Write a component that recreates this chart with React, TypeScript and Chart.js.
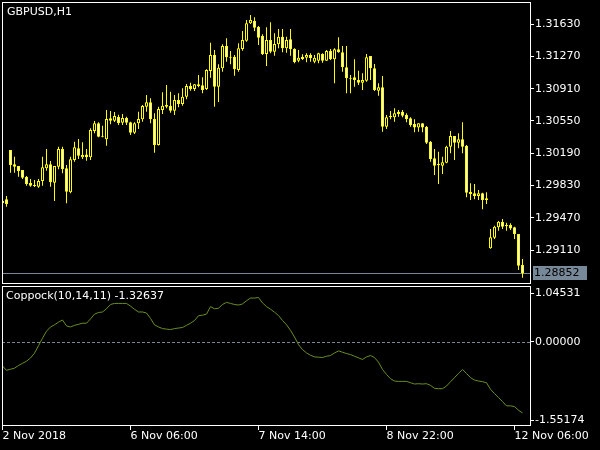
import React, { useEffect, useRef } from 'react';
import { Chart, registerables } from 'chart.js';

Chart.register(...registerables);

const symbolTitle = 'GBPUSD,H1';
const indicatorName = 'Coppock(10,14,11)';

const opens = [
  1.29657, 1.29676, 1.30226, 1.30066, 1.30047, 1.30003, 1.29925, 1.29858, 1.29835, 1.29816,
  1.29880, 1.30022, 1.30066, 1.29861, 1.30039, 1.30237, 1.30022, 1.29754, 1.30114, 1.30245,
  1.30144, 1.30177, 1.30144, 1.30438, 1.30523, 1.30385, 1.30345, 1.30579, 1.30552, 1.30594,
  1.30530, 1.30582, 1.30534, 1.30418, 1.30523, 1.30568, 1.30708, 1.30757, 1.30571, 1.30281,
  1.30672, 1.30708, 1.30719, 1.30664, 1.30783, 1.30738, 1.30820, 1.30939, 1.30906, 1.30958,
  1.30947, 1.30906, 1.31106, 1.31285, 1.30931, 1.31136, 1.31385, 1.31266, 1.31266, 1.31118,
  1.31352, 1.31444, 1.31638, 1.31664, 1.31600, 1.31497, 1.31296, 1.31452, 1.31322, 1.31404,
  1.31489, 1.31359, 1.31460, 1.31352, 1.31221, 1.31266, 1.31255, 1.31285, 1.31210, 1.31221,
  1.31296, 1.31221, 1.31329, 1.31237, 1.31348, 1.31315, 1.31148, 1.31028, 1.31036, 1.31006,
  1.30976, 1.30998, 1.31274, 1.31136, 1.30887, 1.30925, 1.30485, 1.30590, 1.30590, 1.30653,
  1.30653, 1.30616, 1.30579, 1.30515, 1.30478, 1.30523, 1.30485, 1.30318, 1.30133, 1.30069,
  1.30050, 1.30084, 1.30263, 1.30382, 1.30307, 1.30345, 1.30274, 1.29761, 1.29743, 1.29713,
  1.29743, 1.29687, 1.29130, 1.29248, 1.29364, 1.29423, 1.29389, 1.29389, 1.29364, 1.29289,
  1.28943,
];

const highs = [
  1.29676, 1.29713, 1.30226, 1.30151, 1.30047, 1.30003, 1.29936, 1.29902, 1.29891, 1.29902,
  1.30151, 1.30237, 1.30103, 1.30047, 1.30263, 1.30263, 1.30058, 1.30151, 1.30318, 1.30348,
  1.30311, 1.30237, 1.30468, 1.30549, 1.30534, 1.30496, 1.30672, 1.30661, 1.30649, 1.30619,
  1.30627, 1.30597, 1.30541, 1.30534, 1.30653, 1.30727, 1.30839, 1.30802, 1.30635, 1.30708,
  1.30869, 1.30950, 1.30876, 1.30839, 1.30858, 1.30913, 1.30961, 1.30976, 1.30961, 1.31062,
  1.31036, 1.31125, 1.31422, 1.31341, 1.31181, 1.31404, 1.31471, 1.31329, 1.31285, 1.31415,
  1.31552, 1.31675, 1.31731, 1.31705, 1.31608, 1.31516, 1.31594, 1.31649, 1.31527, 1.31575,
  1.31575, 1.31489, 1.31575, 1.31359, 1.31341, 1.31293, 1.31304, 1.31304, 1.31285, 1.31310,
  1.31304, 1.31341, 1.31352, 1.31359, 1.31482, 1.31385, 1.31385, 1.31062, 1.31237, 1.31110,
  1.31081, 1.31296, 1.31274, 1.31184, 1.30969, 1.31051, 1.30616, 1.30661, 1.30690, 1.30672,
  1.30672, 1.30635, 1.30590, 1.30568, 1.30523, 1.30523, 1.30493, 1.30326, 1.30237, 1.30207,
  1.30151, 1.30274, 1.30437, 1.30382, 1.30412, 1.30534, 1.30281, 1.29854, 1.29846, 1.29780,
  1.29750, 1.29754, 1.29345, 1.29381, 1.29434, 1.29456, 1.29415, 1.29408, 1.29370, 1.29289,
  1.29010,
];

const lows = [
  1.29593, 1.29593, 1.29973, 1.29973, 1.29928, 1.29902, 1.29827, 1.29816, 1.29813, 1.29805,
  1.29827, 1.29995, 1.29816, 1.29657, 1.30011, 1.29966, 1.29631, 1.29743, 1.30095, 1.30125,
  1.30125, 1.30106, 1.30114, 1.30412, 1.30367, 1.30367, 1.30274, 1.30512, 1.30538, 1.30504,
  1.30504, 1.30504, 1.30393, 1.30404, 1.30460, 1.30541, 1.30653, 1.30523, 1.30195, 1.30275,
  1.30627, 1.30690, 1.30641, 1.30616, 1.30702, 1.30719, 1.30791, 1.30887, 1.30883, 1.30925,
  1.30858, 1.30895, 1.31032, 1.30708, 1.30761, 1.31099, 1.31210, 1.31181, 1.31054, 1.31099,
  1.31333, 1.31433, 1.31630, 1.31552, 1.31396, 1.31285, 1.31162, 1.31304, 1.31277, 1.31359,
  1.31315, 1.31310, 1.31277, 1.31192, 1.31203, 1.31229, 1.31203, 1.31210, 1.31192, 1.31192,
  1.31199, 1.31218, 1.31229, 1.30969, 1.31310, 1.31099, 1.30858, 1.30858, 1.30931, 1.30950,
  1.30895, 1.30987, 1.31006, 1.30883, 1.30831, 1.30430, 1.30460, 1.30568, 1.30541, 1.30597,
  1.30590, 1.30534, 1.30485, 1.30423, 1.30430, 1.30423, 1.30292, 1.30095, 1.29947, 1.29846,
  1.29958, 1.30077, 1.30189, 1.30114, 1.30244, 1.30189, 1.29698, 1.29668, 1.29676, 1.29668,
  1.29564, 1.29623, 1.29125, 1.29233, 1.29326, 1.29345, 1.29326, 1.29334, 1.29233, 1.28888,
  1.28802,
];

const closes = [
  1.29635, 1.29623, 1.30059, 1.30039, 1.29992, 1.29917, 1.29846, 1.29827, 1.29824, 1.29880,
  1.30033, 1.30066, 1.29865, 1.30047, 1.30237, 1.30014, 1.29761, 1.30122, 1.30256, 1.30162,
  1.30170, 1.30144, 1.30449, 1.30523, 1.30374, 1.30374, 1.30571, 1.30552, 1.30605, 1.30527,
  1.30582, 1.30530, 1.30418, 1.30523, 1.30571, 1.30716, 1.30757, 1.30568, 1.30281, 1.30683,
  1.30719, 1.30727, 1.30664, 1.30783, 1.30738, 1.30820, 1.30939, 1.30906, 1.30958, 1.30939,
  1.30895, 1.31118, 1.31285, 1.30931, 1.31143, 1.31385, 1.31259, 1.31255, 1.31125, 1.31359,
  1.31452, 1.31638, 1.31675, 1.31589, 1.31478, 1.31293, 1.31452, 1.31322, 1.31407, 1.31489,
  1.31359, 1.31452, 1.31348, 1.31203, 1.31255, 1.31240, 1.31285, 1.31248, 1.31255, 1.31304,
  1.31221, 1.31329, 1.31237, 1.31348, 1.31315, 1.31148, 1.31025, 1.31020, 1.31006, 1.30976,
  1.31006, 1.31259, 1.31136, 1.30895, 1.30925, 1.30485, 1.30590, 1.30605, 1.30635, 1.30627,
  1.30608, 1.30571, 1.30504, 1.30478, 1.30523, 1.30478, 1.30307, 1.30125, 1.30050, 1.30058,
  1.30088, 1.30263, 1.30382, 1.30307, 1.30345, 1.30263, 1.29749, 1.29735, 1.29713, 1.29743,
  1.29668, 1.29668, 1.29252, 1.29370, 1.29426, 1.29370, 1.29375, 1.29352, 1.29289, 1.28936,
  1.28852,
];

const coppock = [
  -0.45, -0.53, -0.51, -0.49, -0.44, -0.40, -0.36, -0.30, -0.21, -0.07,
  0.07, 0.20, 0.28, 0.32, 0.37, 0.41, 0.30, 0.28, 0.31, 0.33,
  0.35, 0.35, 0.43, 0.52, 0.55, 0.56, 0.62, 0.70, 0.72, 0.72,
  0.72, 0.72, 0.67, 0.61, 0.56, 0.56, 0.54, 0.44, 0.32, 0.28,
  0.25, 0.24, 0.23, 0.25, 0.26, 0.27, 0.31, 0.35, 0.40, 0.49,
  0.50, 0.52, 0.66, 0.62, 0.63, 0.70, 0.74, 0.72, 0.70, 0.69,
  0.71, 0.77, 0.82, 0.82, 0.83, 0.73, 0.66, 0.612, 0.556, 0.494,
  0.401, 0.321, 0.216, 0.092, -0.050, -0.143, -0.205, -0.248, -0.279, -0.285,
  -0.291, -0.267, -0.254, -0.205, -0.168, -0.192, -0.217, -0.236, -0.267, -0.297,
  -0.328, -0.279, -0.254, -0.291, -0.378, -0.514, -0.607, -0.687, -0.730, -0.737,
  -0.737, -0.737, -0.761, -0.786, -0.780, -0.786, -0.780, -0.811, -0.866, -0.873,
  -0.873, -0.824, -0.743, -0.668, -0.588, -0.514, -0.588, -0.668, -0.712, -0.730,
  -0.743, -0.761, -0.885, -0.965, -1.040, -1.114, -1.194, -1.194, -1.207, -1.275,
  -1.32637,
];

const priceTicks = [1.3163, 1.3127, 1.3091, 1.3055, 1.3019, 1.2983, 1.2947, 1.2911];
const priceMin = 1.28743;
const priceMax = 1.31876;

const subMin = -1.55174;
const subMax = 1.04531;
const subTickValues = [0.91, 0, -1.46];
const subTickLabels = ['1.04531', '0.00000', '-1.55174'];

const timeTickBars = [0, 32, 64, 96, 128];
const timeTickLabels = ['2 Nov 2018', '6 Nov 06:00', '7 Nov 14:00', '8 Nov 22:00', '12 Nov 06:00'];

const barMin = -0.125;
const barMax = 131.875;

const FONT = 'DejaVu Sans';
const CANDLE = '#FFFF00';
const SLATE = '#778899';
const COPPOCK_COLOR = '#6B8E23';

export default function App() {
  const mainRef = useRef<HTMLCanvasElement>(null);
  const subRef = useRef<HTMLCanvasElement>(null);

  useEffect(() => {
    document.body.style.margin = '0';
    document.body.style.background = '#000';
    const idx = closes.map((_, i) => i);
    const last = closes.length - 1;

    const fixY = (w: number) => (scale: any) => {
      scale.width = w;
      scale.paddingTop = 0;
      scale.paddingBottom = 0;
      scale.paddingLeft = 0;
      scale.paddingRight = 0;
    };
    const fixX = (h: number) => (scale: any) => {
      scale.height = h;
      scale.paddingTop = 0;
      scale.paddingBottom = 0;
      scale.paddingLeft = 0;
      scale.paddingRight = 0;
    };

    const mainPlugin = {
      id: 'mainDeco',
      beforeDatasetsDraw(chart: any) {
        const { ctx, chartArea: a, scales } = chart;
        const py = Math.round(scales.y.getPixelForValue(closes[last])) + 0.5;
        ctx.save();
        ctx.strokeStyle = SLATE;
        ctx.lineWidth = 1;
        ctx.beginPath();
        ctx.moveTo(a.left, py);
        ctx.lineTo(a.right, py);
        ctx.stroke();
        ctx.restore();
      },
      afterDraw(chart: any) {
        const { ctx, chartArea: a, scales } = chart;
        ctx.save();
        ctx.strokeStyle = '#FFFFFF';
        ctx.lineWidth = 1;
        ctx.strokeRect(a.left + 0.5, a.top + 0.5, a.right - a.left, a.bottom - a.top);
        ctx.font = `11px "${FONT}"`;
        ctx.textBaseline = 'middle';
        ctx.textAlign = 'left';
        ctx.fillStyle = '#FFFFFF';
        ctx.fillText(symbolTitle, 7, 12);
        const py = Math.round(scales.y.getPixelForValue(closes[last]));
        ctx.fillStyle = SLATE;
        ctx.fillRect(a.right + 3, py - 7, 54, 14);
        ctx.fillStyle = '#000000';
        ctx.fillText(closes[last].toFixed(5), a.right + 4, py);
        ctx.restore();
      },
    };

    const subPlugin = {
      id: 'subDeco',
      beforeDatasetsDraw(chart: any) {
        const { ctx, chartArea: a, scales } = chart;
        const zy = Math.round(scales.y.getPixelForValue(0)) + 0.5;
        ctx.save();
        ctx.strokeStyle = SLATE;
        ctx.lineWidth = 1;
        ctx.setLineDash([3, 2]);
        ctx.beginPath();
        ctx.moveTo(a.left, zy);
        ctx.lineTo(a.right, zy);
        ctx.stroke();
        ctx.restore();
      },
      afterDraw(chart: any) {
        const { ctx, chartArea: a } = chart;
        ctx.save();
        ctx.strokeStyle = '#FFFFFF';
        ctx.lineWidth = 1;
        ctx.strokeRect(a.left + 0.5, a.top + 0.5, a.right - a.left, a.bottom - a.top);
        ctx.font = `11px "${FONT}"`;
        ctx.textBaseline = 'middle';
        ctx.textAlign = 'left';
        ctx.fillStyle = '#FFFFFF';
        ctx.fillText(`${indicatorName} ${coppock[last].toFixed(5)}`, 6, 11);
        ctx.restore();
      },
    };

    const main = new Chart(mainRef.current as HTMLCanvasElement, {
      type: 'bar',
      data: {
        datasets: [
          {
            type: 'bar',
            data: idx.map((i) => ({ x: i, y: [lows[i], highs[i]] })) as any,
            backgroundColor: CANDLE,
            borderWidth: 0,
            barThickness: 1,
            grouped: false,
            inflateAmount: 0,
            order: 2,
          } as any,
          {
            type: 'bar',
            data: idx.map((i) => ({ x: i, y: [opens[i], closes[i]] })) as any,
            backgroundColor: idx.map((i) => (closes[i] < opens[i] ? '#FFFFFF' : '#000000')),
            borderColor: CANDLE,
            borderWidth: 1,
            borderSkipped: false,
            barThickness: 3,
            grouped: false,
            inflateAmount: 0,
            order: 1,
          } as any,
        ],
      },
      options: {
        responsive: false,
        animation: false,
        devicePixelRatio: 1,
        events: [],
        layout: { padding: { left: 2, top: 2, right: 0, bottom: 2 } },
        plugins: { legend: { display: false }, tooltip: { enabled: false } },
        scales: {
          x: { type: 'linear', min: barMin, max: barMax, offset: false, display: false },
          y: {
            type: 'linear',
            position: 'right',
            min: priceMin,
            max: priceMax,
            beginAtZero: false,
            afterBuildTicks: (s: any) => {
              s.ticks = priceTicks.map((v) => ({ value: v }));
            },
            afterFit: fixY(70),
            grid: { drawOnChartArea: false, drawTicks: true, tickLength: 4, color: '#FFFFFF' },
            border: { display: false },
            ticks: {
              color: '#FFFFFF',
              autoSkip: false,
              padding: 1,
              font: { family: FONT, size: 11 },
              callback: (_v: any, i: number) => priceTicks[i].toFixed(5),
            },
          },
        },
      } as any,
      plugins: [mainPlugin],
    });

    const sub = new Chart(subRef.current as HTMLCanvasElement, {
      type: 'line',
      data: {
        datasets: [
          {
            data: idx.map((i) => ({ x: i, y: coppock[i] })),
            borderColor: COPPOCK_COLOR,
            borderWidth: 1,
            pointRadius: 0,
            tension: 0,
            fill: false,
          },
        ],
      },
      options: {
        responsive: false,
        animation: false,
        devicePixelRatio: 1,
        events: [],
        layout: { padding: { left: 2, top: 1, right: 0, bottom: 0 } },
        plugins: { legend: { display: false }, tooltip: { enabled: false } },
        scales: {
          x: {
            type: 'linear',
            position: 'bottom',
            min: barMin,
            max: barMax,
            offset: false,
            afterBuildTicks: (s: any) => {
              s.ticks = timeTickBars.map((v) => ({ value: v }));
            },
            afterFit: fixX(25),
            grid: { drawOnChartArea: false, drawTicks: true, tickLength: 5, color: '#FFFFFF' },
            border: { display: false },
            ticks: {
              color: '#FFFFFF',
              autoSkip: false,
              maxRotation: 0,
              minRotation: 0,
              align: 'start',
              padding: 0,
              font: { family: FONT, size: 11, lineHeight: 1.1 },
              callback: (_v: any, i: number) => timeTickLabels[i],
            },
          },
          y: {
            type: 'linear',
            position: 'right',
            min: subMin,
            max: subMax,
            afterBuildTicks: (s: any) => {
              s.ticks = subTickValues.map((v) => ({ value: v }));
            },
            afterFit: fixY(70),
            grid: { drawOnChartArea: false, drawTicks: true, tickLength: 4, color: '#FFFFFF' },
            border: { display: false },
            ticks: {
              color: '#FFFFFF',
              autoSkip: false,
              padding: 1,
              font: { family: FONT, size: 11 },
              callback: (_v: any, i: number) => subTickLabels[i],
            },
          },
        },
      } as any,
      plugins: [subPlugin],
    });

    return () => {
      main.destroy();
      sub.destroy();
    };
  }, []);

  return (
    <div style={{ position: 'fixed', left: 0, top: 0, width: 600, height: 450, background: '#000', overflow: 'hidden' }}>
      <canvas ref={mainRef} width={600} height={285} style={{ position: 'absolute', left: 0, top: 0 }} />
      <canvas ref={subRef} width={600} height={165} style={{ position: 'absolute', left: 0, top: 285 }} />
    </div>
  );
}
